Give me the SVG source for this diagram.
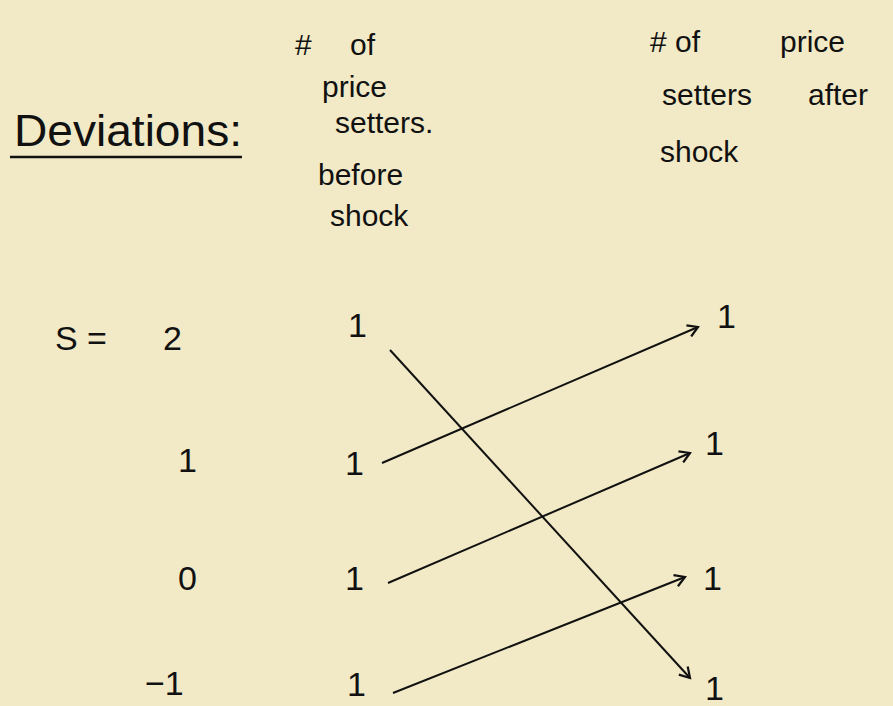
<svg xmlns="http://www.w3.org/2000/svg" width="893" height="706" viewBox="0 0 893 706">
<defs>
<style>
.t{font-family:"Liberation Sans","DejaVu Sans",sans-serif;fill:#111;}
.h{font-size:30px;}
.n{font-size:34px;}
.c{stroke:#111;stroke-width:2;fill:none;}
</style>
<marker id="ah" markerWidth="14" markerHeight="14" refX="11" refY="7" orient="auto" markerUnits="userSpaceOnUse">
<path d="M1,1 L11,7 L1,13" fill="none" stroke="#111" stroke-width="2.2"/>
</marker>
</defs>
<rect width="893" height="706" fill="#f2eac6"/>
<g id="title">
<text class="t" x="14" y="146" font-size="44" textLength="228" lengthAdjust="spacingAndGlyphs">Deviations:</text>
<line x1="10" y1="157" x2="242" y2="157" stroke="#111" stroke-width="2.5"/>
</g>
<g id="header-before">
<text class="t h" x="295" y="55">#</text>
<text class="t h" x="350" y="55">of</text>
<text class="t h" x="322" y="97">price</text>
<text class="t h" x="335" y="133">setters.</text>
<text class="t h" x="318" y="185">before</text>
<text class="t h" x="330" y="226">shock</text>
</g>
<g id="header-after">
<text class="t h" x="650" y="52">#  of</text>
<text class="t h" x="780" y="52">price</text>
<text class="t h" x="662" y="105">setters</text>
<text class="t h" x="808" y="105">after</text>
<text class="t h" x="660" y="162">shock</text>
</g>
<g id="row-labels">
<text class="t n" x="55" y="350">S =</text>
<text class="t n" x="163" y="350">2</text>
<text class="t n" x="178" y="472">1</text>
<text class="t n" x="178" y="590">0</text>
<text class="t n" x="145" y="695">−1</text>
</g>
<g id="before">
<text class="t n" x="348" y="337">1</text>
<text class="t n" x="345" y="475">1</text>
<text class="t n" x="345" y="590">1</text>
<text class="t n" x="347" y="696">1</text>
</g>
<g id="after">
<text class="t n" x="717" y="328">1</text>
<text class="t n" x="705" y="455">1</text>
<text class="t n" x="703" y="590">1</text>
<text class="t n" x="705" y="700">1</text>
</g>
<g id="connectors">
<line class="c" x1="390" y1="350" x2="690" y2="678" marker-end="url(#ah)"/>
<line class="c" x1="382" y1="463" x2="698" y2="327" marker-end="url(#ah)"/>
<line class="c" x1="388" y1="583" x2="690" y2="453" marker-end="url(#ah)"/>
<line class="c" x1="393" y1="693" x2="685" y2="577" marker-end="url(#ah)"/>
</g>
</svg>
